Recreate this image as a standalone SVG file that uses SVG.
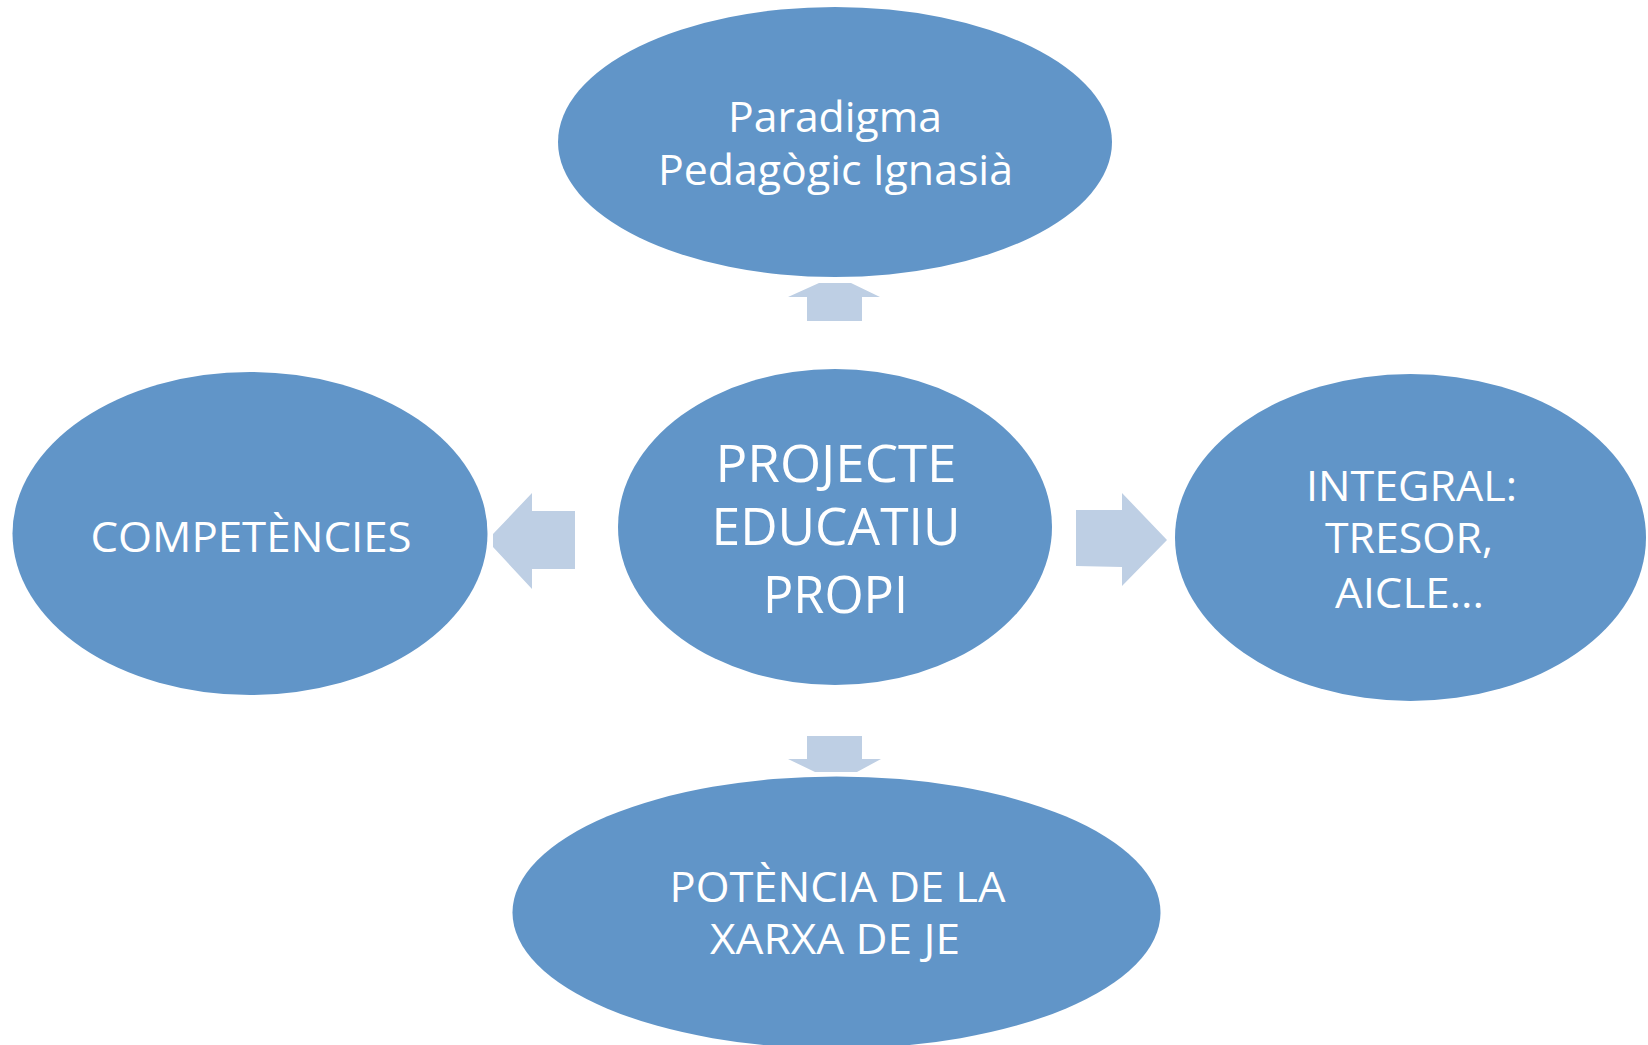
<svg xmlns="http://www.w3.org/2000/svg" width="1648" height="1045" viewBox="0 0 1648 1045">
  <style>
    .node { fill: #6195C8; }
    .arrow { fill: #BECFE4; }
    .label { fill: #FFFFFF; font-family: "Open Sans", "Noto Sans", "Liberation Sans", sans-serif; font-size: 42px; text-anchor: middle; }
    .big { font-size: 51px; }
  </style>
  <rect x="0" y="0" width="1648" height="1045" fill="#FFFFFF"/>
  <g id="connectors">
    <polygon class="arrow" points="807,321 862,321 862,297 880,297 851,283 819,283 788,297 807,297"/>
    <polygon class="arrow" points="807,736 862,736 862,759 881,759 857,772 815,772 788,759 807,759"/>
    <polygon class="arrow" points="575,511 532,511 532,493 493,534 493,547 532,589 532,569 575,569"/>
    <polygon class="arrow" points="1076,510 1122,510 1122,493 1167,540 1122,586 1122,567 1076,566"/>
  </g>
  <g id="node-paradigma">
    <ellipse class="node" cx="835" cy="142" rx="277" ry="135"/>
    <text class="label" x="835" y="131.5" textLength="214" lengthAdjust="spacingAndGlyphs">Paradigma</text>
    <text class="label" x="835.5" y="185" textLength="355" lengthAdjust="spacingAndGlyphs">Pedagògic Ignasià</text>
  </g>
  <g id="node-projecte">
    <ellipse class="node" cx="835" cy="527" rx="217" ry="158"/>
    <text class="label big" x="836" y="481.5" textLength="241" lengthAdjust="spacingAndGlyphs">PROJECTE</text>
    <text class="label big" x="836" y="545" textLength="249" lengthAdjust="spacingAndGlyphs">EDUCATIU</text>
    <text class="label big" x="835.5" y="612.5" textLength="145" lengthAdjust="spacingAndGlyphs">PROPI</text>
  </g>
  <g id="node-competencies">
    <ellipse class="node" cx="250" cy="533.5" rx="237.5" ry="161.5"/>
    <text class="label" x="251" y="551.5" textLength="321" lengthAdjust="spacingAndGlyphs">COMPETÈNCIES</text>
  </g>
  <g id="node-integral">
    <ellipse class="node" cx="1410.5" cy="537.5" rx="235.5" ry="163.5"/>
    <text class="label" x="1411.5" y="500.7" textLength="211" lengthAdjust="spacingAndGlyphs">INTEGRAL:</text>
    <text class="label" x="1409" y="553" textLength="168" lengthAdjust="spacingAndGlyphs">TRESOR,</text>
    <text class="label" x="1409.5" y="608" textLength="149" lengthAdjust="spacingAndGlyphs">AICLE...</text>
  </g>
  <g id="node-potencia">
    <ellipse class="node" cx="836.5" cy="912.5" rx="324" ry="136"/>
    <text class="label" x="837.5" y="902.3" textLength="336" lengthAdjust="spacingAndGlyphs">POTÈNCIA DE LA</text>
    <text class="label" x="835" y="954" textLength="250" lengthAdjust="spacingAndGlyphs">XARXA DE JE</text>
  </g>
</svg>
